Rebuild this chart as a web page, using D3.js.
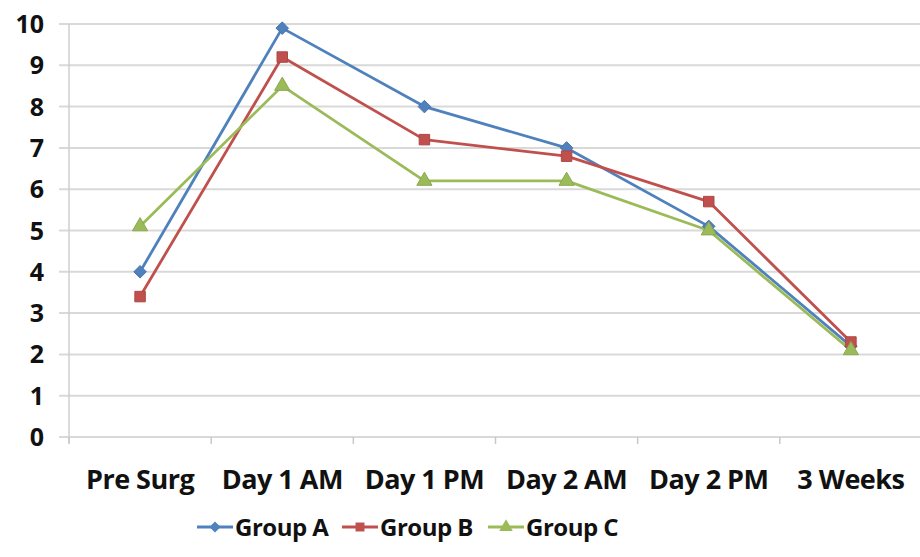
<!DOCTYPE html>
<html><head><meta charset="utf-8">
<script src="https://cdn.jsdelivr.net/npm/d3@7"></script>
<style>body{margin:0;background:#fff;} svg{display:block;}</style>
</head><body>
<svg id="chart" width="920" height="557"></svg>
<script>
const categories = ["Pre Surg","Day 1 AM","Day 1 PM","Day 2 AM","Day 2 PM","3 Weeks"];
const groupA = [4.0, 9.9, 8.0, 7.0, 5.1, 2.2];
const groupB = [3.4, 9.2, 7.2, 6.8, 5.7, 2.3];
const groupC = [5.1, 8.5, 6.2, 6.2, 5.0, 2.1];
const yTicks = [0,1,2,3,4,5,6,7,8,9,10];
const seriesNames = ["Group A","Group B","Group C"];
const colors = ["#4F81BD","#C0504D","#9BBB59"];
const symbols = [d3.symbolDiamond2 || d3.symbolDiamond, d3.symbolSquare, d3.symbolTriangle];
const series = [groupA, groupB, groupC].map((v,i)=>({name:seriesNames[i], values:v, color:colors[i], sym:symbols[i]}));

const svg = d3.select("#chart");
const font = "'Open Sans', sans-serif";
const x = d3.scaleBand().domain(categories).range([69, 922]);
const y = d3.scaleLinear().domain([0,10]).range([437, 24]);

// gridlines
svg.append("g").selectAll("line").data(yTicks).join("line")
  .attr("x1", 59).attr("x2", 920)
  .attr("y1", d=>y(d)).attr("y2", d=>y(d))
  .attr("stroke", "#d9d9d9").attr("stroke-width", 2);

// y axis line
svg.append("line").attr("x1",69).attr("x2",69).attr("y1",y(10)).attr("y2",y(0)+6)
  .attr("stroke","#cfcfcf").attr("stroke-width",1.5);

// x ticks
const bounds = categories.map(c=>x(c)).concat([x.range()[1]]);
svg.append("g").selectAll("line").data(bounds).join("line")
  .attr("x1", d=>d).attr("x2", d=>d).attr("y1", y(0)).attr("y2", y(0)+7)
  .attr("stroke","#c8c8c8").attr("stroke-width",1.5);

// y labels
svg.append("g").selectAll("text").data(yTicks).join("text")
  .attr("x", 44).attr("y", d=>y(d)).attr("dy","0.36em")
  .attr("text-anchor","end").attr("font-family",font).attr("font-weight","bold")
  .attr("font-size",25).attr("fill","#111").text(d=>d);

// x labels
svg.append("g").selectAll("text").data(categories).join("text")
  .attr("x", d=>x(d)+x.bandwidth()/2).attr("y", 489)
  .attr("text-anchor","middle").attr("font-family",font).attr("font-weight","bold")
  .attr("font-size",27).attr("letter-spacing","-0.5").attr("fill","#111").text(d=>d);

const line = d3.line().x((d,i)=>x(categories[i])+x.bandwidth()/2).y(d=>y(d));

series.forEach(s=>{
  svg.append("path").datum(s.values).attr("d", line)
    .attr("fill","none").attr("stroke", s.color).attr("stroke-width",2.8)
    .attr("stroke-linejoin","round");
});
series.forEach(s=>{
  svg.append("g").selectAll("path").data(s.values).join("path")
    .attr("transform",(d,i)=>`translate(${x(categories[i])+x.bandwidth()/2},${y(d)})`)
    .attr("d", d3.symbol().type(s.sym).size(s.sym===d3.symbolSquare?110:100))
    .attr("fill", s.color).attr("stroke", d3.color(s.color).darker(0.3)).attr("stroke-width",1);
});

// legend
const legX = [197, 342, 488];
const leg = svg.append("g");
series.forEach((s,i)=>{
  const g = leg.append("g").attr("transform",`translate(${legX[i]},527)`);
  g.append("line").attr("x1",0).attr("x2",36).attr("y1",0).attr("y2",0)
    .attr("stroke",s.color).attr("stroke-width",2.8);
  g.append("path").attr("transform","translate(18,0)")
    .attr("d", d3.symbol().type(s.sym).size(80)).attr("fill",s.color);
  g.append("text").attr("x",38).attr("y",0).attr("dy","0.36em")
    .attr("font-family",font).attr("font-weight","bold").attr("font-size",24)
    .attr("letter-spacing","-0.5").attr("fill","#111").text(s.name);
});
</script>
</body></html>
